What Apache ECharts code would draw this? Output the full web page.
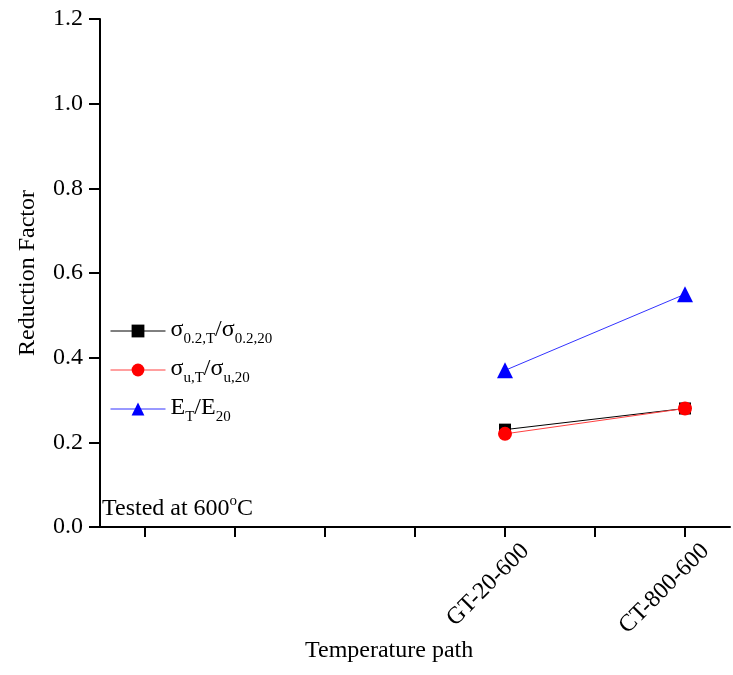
<!DOCTYPE html>
<html>
<head>
<meta charset="utf-8">
<script src="https://cdn.jsdelivr.net/npm/echarts@6/dist/echarts.min.js"></script>
<style>
  html, body { margin: 0; padding: 0; background: #fff; }
  #chart { width: 733px; height: 675px; }
</style>
</head>
<body>
<div id="chart"></div>
<script>
// Temperature-path slots along the x axis (only two are tested paths)
const pathSlots = ['', '', '', '', 'GT-20-600', '', 'CT-800-600'];
const testedPaths = ['GT-20-600', 'CT-800-600'];

// Reduction factors at 600 °C
const yieldRatio = [0.23, 0.28];     // σ0.2,T / σ0.2,20
const ultimateRatio = [0.22, 0.28];  // σu,T / σu,20
const modulusRatio = [0.37, 0.55];   // ET / E20

const yTicks = { min: 0, max: 1.2, interval: 0.2 };

const serif = 'Liberation Serif';

const legendRich = {
  b: { fontFamily: serif, fontSize: 24, color: '#000', lineHeight: 26, verticalAlign: 'top' },
  s: { fontFamily: serif, fontSize: 15, color: '#000', lineHeight: 15, padding: [14, 0, 0, 0], verticalAlign: 'top' }
};

const names = {
  yield: '{b|σ}{s|0.2,T}{b|/σ}{s|0.2,20}',
  ultimate: '{b|σ}{s|u,T}{b|/σ}{s|u,20}',
  modulus: '{b|E}{s|T}{b|/E}{s|20}'
};

function pairs(values) {
  return testedPaths.map((p, i) => [p, values[i]]);
}

const chart = echarts.init(document.getElementById('chart'));
chart.setOption({
  backgroundColor: '#fff',
  animation: false,
  grid: { left: 100, right: 3, top: 19, bottom: 148, containLabel: false },
  xAxis: {
    type: 'category',
    data: pathSlots,
    boundaryGap: true,
    axisLine: { show: true, lineStyle: { color: '#000', width: 2 } },
    axisTick: { show: true, alignWithLabel: true, interval: 0, length: 10, inside: false,
      lineStyle: { color: '#000', width: 2 } },
    axisLabel: {
      rotate: 45, margin: 0, interval: 0, fontFamily: serif, fontSize: 24, color: '#000',
      verticalAlign: 'top', padding: [17, 0, 0, 0]
    },
    splitLine: { show: false }
  },
  yAxis: {
    type: 'value',
    min: yTicks.min,
    max: yTicks.max,
    interval: yTicks.interval,
    name: 'Reduction Factor',
    nameLocation: 'middle',
    nameGap: 60,
    nameTextStyle: { fontFamily: serif, fontSize: 24, color: '#000' },
    axisLine: { show: true, lineStyle: { color: '#000', width: 2 } },
    axisTick: { show: true, length: 11, lineStyle: { color: '#000', width: 2 } },
    axisLabel: { margin: 17, fontFamily: serif, fontSize: 24, color: '#000',
      formatter: v => v.toFixed(1) },
    splitLine: { show: false }
  },
  legend: {
    orient: 'vertical',
    left: 105,
    top: 313,
    itemWidth: 55,
    itemHeight: 16,
    itemGap: 10,
    lineStyle: { width: 1 },
    data: [names.yield, names.ultimate, names.modulus],
    formatter: n => n,
    textStyle: { rich: legendRich }
  },
  graphic: [
    {
      type: 'text',
      left: 102,
      top: 494,
      style: {
        text: '{b|Tested at 600}{o|o}{b|C}',
        rich: {
          b: { fontFamily: serif, fontSize: 24, color: '#000', lineHeight: 27, verticalAlign: 'bottom' },
          o: { fontFamily: serif, fontSize: 15, color: '#000', lineHeight: 15, padding: [0, 0, 12, 0], verticalAlign: 'bottom' }
        }
      }
    },
    {
      type: 'text',
      left: 305,
      top: 639,
      style: { text: 'Temperature path', fontFamily: serif, fontSize: 24, fill: '#000' }
    }
  ],
  series: [
    {
      name: names.yield,
      type: 'line',
      data: pairs(yieldRatio),
      symbol: 'rect',
      symbolSize: 12,
      itemStyle: { color: '#000' },
      lineStyle: { color: '#000', width: 1 },
      z: 2
    },
    {
      name: names.ultimate,
      type: 'line',
      data: pairs(ultimateRatio),
      symbol: 'circle',
      symbolSize: 14,
      itemStyle: { color: '#ff0000' },
      lineStyle: { color: '#ff4040', width: 1 },
      z: 3
    },
    {
      name: names.modulus,
      type: 'line',
      data: pairs(modulusRatio),
      symbol: 'triangle',
      symbolSize: 16,
      itemStyle: { color: '#0000ff' },
      lineStyle: { color: '#3333ff', width: 1 },
      z: 4
    }
  ]
});
</script>
</body>
</html>
